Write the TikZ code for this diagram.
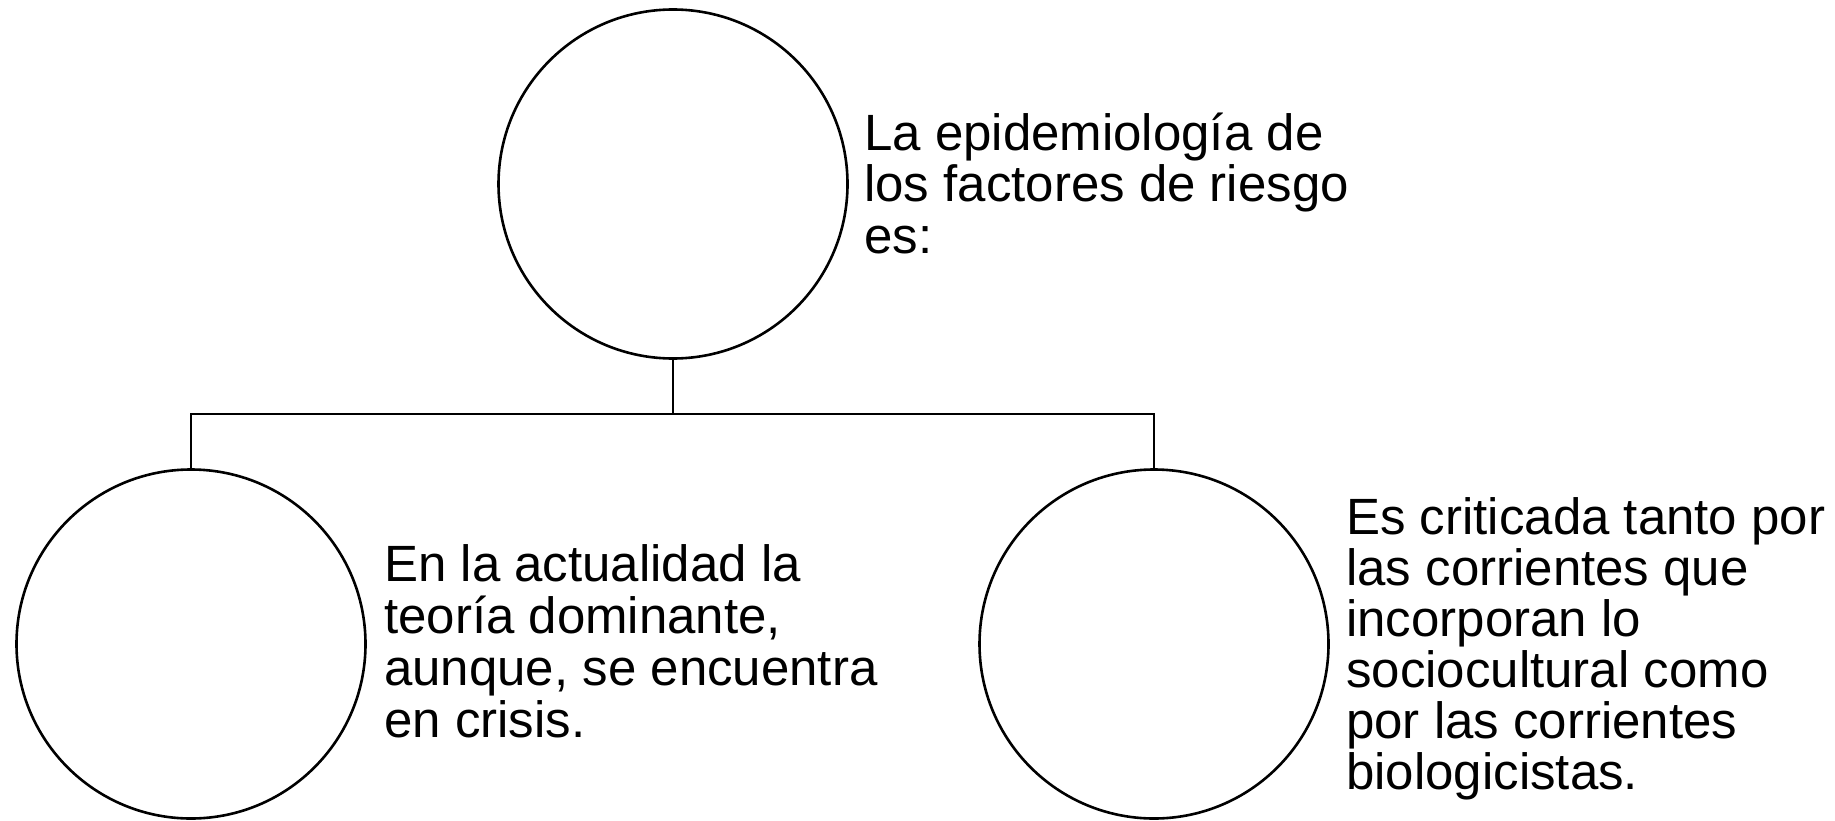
\documentclass[tikz,border=0pt]{standalone}
\usepackage{fontspec}
\setmainfont{Liberation Sans}
\begin{document}
\begin{tikzpicture}[x=1pt,y=-1pt,
  bubble/.style={circle,draw=black,line width=2.6pt,minimum size=349pt,inner sep=0pt},
  label/.style={anchor=base west,align=left,inner sep=0pt,font=\fontsize{51}{51.7}\selectfont},
  link/.style={draw=black,line width=2.6pt}]
\useasboundingbox (0,0) rectangle (1835,821);
\node[bubble] (top) at (673,184) {};
\node[bubble] (left) at (191,644) {};
\node[bubble] (right) at (1154,644) {};
\coordinate (j) at (673,414);
\draw[link] (top.south) -- (j);
\draw[link] (left.north) |- (j) -| (right.north);
\node[label] (t1) at (864,253.4) {La epidemiología de\\los factores de riesgo\\es:};
\node[label] (t2) at (384,737) {En la actualidad la\\teoría dominante,\\aunque, se encuentra\\en crisis.};
\node[label,font=\fontsize{51}{51}\selectfont] (t3) at (1346,789) {Es criticada tanto por\\las corrientes que\\incorporan lo\\sociocultural como\\por las corrientes\\biologicistas.};
\end{tikzpicture}
\end{document}
